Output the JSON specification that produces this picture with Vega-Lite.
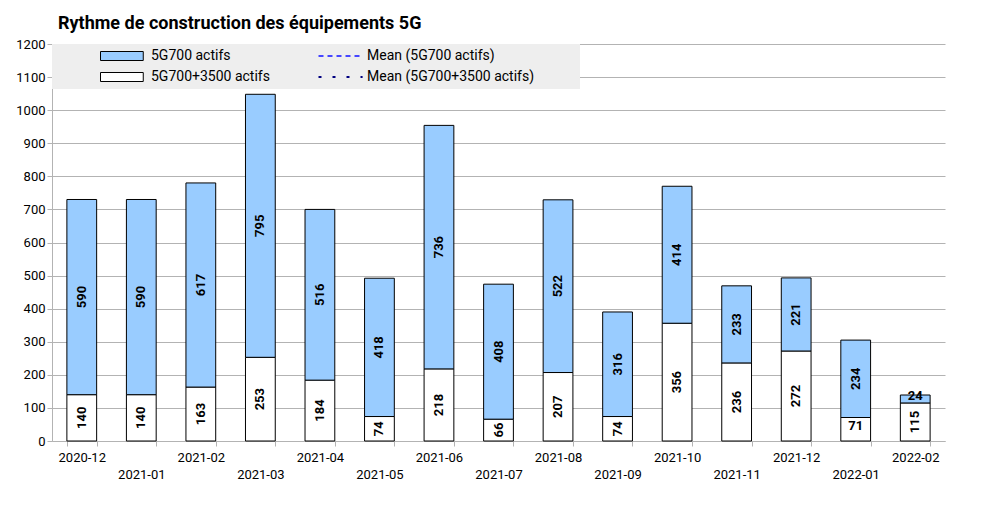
{
  "$schema": "https://vega.github.io/schema/vega-lite/v6.json",
  "autosize": "none",
  "width": 893,
  "height": 397,
  "padding": {"left": 52, "top": 44, "right": 40, "bottom": 67},
  "background": "white",
  "title": {
    "text": "Rythme de construction des équipements 5G",
    "anchor": "start",
    "frame": "group",
    "font": "Roboto",
    "fontSize": 18,
    "fontWeight": "bold",
    "color": "black",
    "offset": 5,
    "dx": 6
  },
  "data": {
    "values": [
      {"mois": "2020-12", "serie": "5G700+3500 actifs", "v": 140},
      {"mois": "2020-12", "serie": "5G700 actifs", "v": 590},
      {"mois": "2021-01", "serie": "5G700+3500 actifs", "v": 140},
      {"mois": "2021-01", "serie": "5G700 actifs", "v": 590},
      {"mois": "2021-02", "serie": "5G700+3500 actifs", "v": 163},
      {"mois": "2021-02", "serie": "5G700 actifs", "v": 617},
      {"mois": "2021-03", "serie": "5G700+3500 actifs", "v": 253},
      {"mois": "2021-03", "serie": "5G700 actifs", "v": 795},
      {"mois": "2021-04", "serie": "5G700+3500 actifs", "v": 184},
      {"mois": "2021-04", "serie": "5G700 actifs", "v": 516},
      {"mois": "2021-05", "serie": "5G700+3500 actifs", "v": 74},
      {"mois": "2021-05", "serie": "5G700 actifs", "v": 418},
      {"mois": "2021-06", "serie": "5G700+3500 actifs", "v": 218},
      {"mois": "2021-06", "serie": "5G700 actifs", "v": 736},
      {"mois": "2021-07", "serie": "5G700+3500 actifs", "v": 66},
      {"mois": "2021-07", "serie": "5G700 actifs", "v": 408},
      {"mois": "2021-08", "serie": "5G700+3500 actifs", "v": 207},
      {"mois": "2021-08", "serie": "5G700 actifs", "v": 522},
      {"mois": "2021-09", "serie": "5G700+3500 actifs", "v": 74},
      {"mois": "2021-09", "serie": "5G700 actifs", "v": 316},
      {"mois": "2021-10", "serie": "5G700+3500 actifs", "v": 356},
      {"mois": "2021-10", "serie": "5G700 actifs", "v": 414},
      {"mois": "2021-11", "serie": "5G700+3500 actifs", "v": 236},
      {"mois": "2021-11", "serie": "5G700 actifs", "v": 233},
      {"mois": "2021-12", "serie": "5G700+3500 actifs", "v": 272},
      {"mois": "2021-12", "serie": "5G700 actifs", "v": 221},
      {"mois": "2022-01", "serie": "5G700+3500 actifs", "v": 71},
      {"mois": "2022-01", "serie": "5G700 actifs", "v": 234},
      {"mois": "2022-02", "serie": "5G700+3500 actifs", "v": 115},
      {"mois": "2022-02", "serie": "5G700 actifs", "v": 24}
    ]
  },
  "transform": [
    {
      "stack": "v",
      "groupby": ["mois"],
      "sort": [{"field": "serie", "order": "descending"}],
      "as": ["v0", "v1"]
    },
    {"calculate": "(datum.v0 + datum.v1) / 2", "as": "vm"}
  ],
  "encoding": {
    "x": {
      "field": "mois",
      "type": "ordinal",
      "scale": {"paddingInner": 0.5, "paddingOuter": 0.25},
      "axis": {
        "title": null,
        "labelAngle": 0,
        "labelOverlap": false,
        "tickBand": "extent",
        "tickSize": 5,
        "labelPadding": 5,
        "labelBaseline": "top",
        "labelLineHeight": 17,
        "labelExpr": "indexof(['2021-01', '2021-03', '2021-05', '2021-07', '2021-09', '2021-11', '2022-01'], datum.label) >= 0 ? ['', datum.label] : datum.label"
      }
    }
  },
  "layer": [
    {
      "mark": {"type": "bar", "stroke": "black", "strokeWidth": 1},
      "encoding": {
        "y": {
          "field": "v1",
          "type": "quantitative",
          "title": null,
          "scale": {"domain": [0, 1200], "nice": false},
          "axis": {
            "title": null,
            "format": "d",
            "values": [0, 100, 200, 300, 400, 500, 600, 700, 800, 900, 1000, 1100, 1200],
            "tickSize": 5,
            "labelPadding": 2
          }
        },
        "y2": {"field": "v0"},
        "fill": {
          "field": "serie",
          "type": "nominal",
          "scale": {
            "domain": ["5G700 actifs", "5G700+3500 actifs"],
            "range": ["#99ccff", "#ffffff"]
          },
          "legend": {
            "orient": "none",
            "legendX": 0,
            "legendY": 0,
            "direction": "vertical",
            "title": "\u00a0",
            "titleOrient": "left",
            "titlePadding": 41,
            "padding": 5,
            "rowPadding": 7,
            "symbolType": "M-1,-1H8.5V1H-1Z",
            "symbolSize": 81,
            "symbolStrokeColor": "black",
            "symbolStrokeWidth": 1,
            "labelOffset": 39,
            "labelFont": "Roboto",
            "labelFontSize": 14,
            "labelColor": "black",
            "labelLimit": 400,
            "fillColor": "#eeeeee"
          }
        }
      }
    },
    {
      "transform": [{"filter": "datum.v < 0"}],
      "mark": {"type": "rule", "strokeWidth": 2},
      "encoding": {
        "y": {
          "field": "vm",
          "type": "quantitative",
          "title": null,
          "axis": {
            "title": null,
            "format": "d",
            "values": [0, 100, 200, 300, 400, 500, 600, 700, 800, 900, 1000, 1100, 1200],
            "tickSize": 5,
            "labelPadding": 2
          }
        },
        "stroke": {
          "field": "serie",
          "type": "nominal",
          "scale": {
            "domain": ["Mean (5G700 actifs)", "Mean (5G700+3500 actifs)"],
            "range": ["#4646ff", "#000080"]
          },
          "legend": {
            "orient": "none",
            "legendX": 219,
            "legendY": 0,
            "direction": "vertical",
            "title": "\u00a0",
            "titleOrient": "left",
            "titlePadding": 40,
            "padding": 5,
            "rowPadding": 7,
            "symbolType": "M-1,0H8.8",
            "symbolSize": 81,
            "symbolStrokeWidth": 2,
            "labelOffset": 37,
            "labelFont": "Roboto",
            "labelFontSize": 14,
            "labelColor": "black",
            "labelLimit": 400,
            "labelExpr": "datum.label + '\u2800\u2800\u2800\u2800'",
            "fillColor": "#eeeeee"
          }
        },
        "strokeDash": {
          "field": "serie",
          "type": "nominal",
          "scale": {
            "domain": ["Mean (5G700 actifs)", "Mean (5G700+3500 actifs)"],
            "range": [[5, 4], [3, 11]]
          },
          "legend": {
            "orient": "none",
            "legendX": 219,
            "legendY": 0,
            "direction": "vertical",
            "title": "\u00a0",
            "titleOrient": "left",
            "titlePadding": 40,
            "padding": 5,
            "rowPadding": 7,
            "symbolType": "M-1,0H8.8",
            "symbolSize": 81,
            "symbolStrokeWidth": 2,
            "labelOffset": 37,
            "labelFont": "Roboto",
            "labelFontSize": 14,
            "labelColor": "black",
            "labelLimit": 400,
            "labelExpr": "datum.label + '\u2800\u2800\u2800\u2800'",
            "fillColor": "#eeeeee"
          }
        }
      }
    },
    {
      "transform": [{"filter": "datum.v != 71 && datum.v != 24"}],
      "mark": {
        "type": "text",
        "font": "Roboto",
        "fontSize": 13,
        "fontWeight": "bold",
        "color": "black",
        "align": "center",
        "baseline": "middle",
        "angle": 270
      },
      "encoding": {
        "y": {
          "field": "vm",
          "type": "quantitative",
          "title": null,
          "axis": {
            "title": null,
            "format": "d",
            "values": [0, 100, 200, 300, 400, 500, 600, 700, 800, 900, 1000, 1100, 1200],
            "tickSize": 5,
            "labelPadding": 2
          }
        },
        "text": {"field": "v", "type": "quantitative"}
      }
    },
    {
      "transform": [{"filter": "datum.v == 71 || datum.v == 24"}],
      "mark": {
        "type": "text",
        "font": "Roboto",
        "fontSize": 13,
        "fontWeight": "bold",
        "color": "black",
        "align": "center",
        "baseline": "middle",
        "dy": -3
      },
      "encoding": {
        "y": {
          "field": "vm",
          "type": "quantitative",
          "title": null,
          "axis": {
            "title": null,
            "format": "d",
            "values": [0, 100, 200, 300, 400, 500, 600, 700, 800, 900, 1000, 1100, 1200],
            "tickSize": 5,
            "labelPadding": 2
          }
        },
        "text": {"field": "v", "type": "quantitative"}
      }
    }
  ],
  "config": {
    "view": {"stroke": null},
    "font": "Roboto",
    "axis": {
      "labelFont": "Roboto",
      "labelFontSize": 13,
      "labelColor": "black",
      "domainColor": "#b3b3b3",
      "tickColor": "#b3b3b3",
      "gridColor": "#b3b3b3"
    },
    "axisX": {"grid": false},
    "axisY": {"grid": true}
  }
}
